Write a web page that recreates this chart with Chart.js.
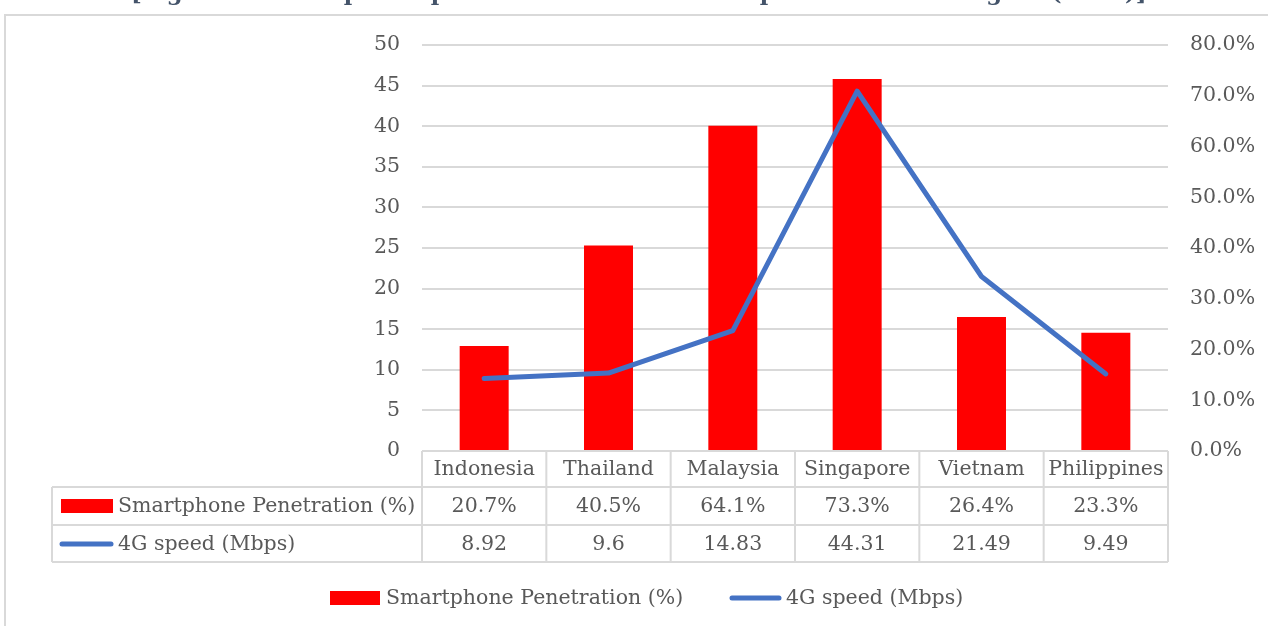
<!DOCTYPE html>
<html><head><meta charset="utf-8">
<script src="https://cdn.jsdelivr.net/npm/chart.js@4.4.1/dist/chart.umd.min.js"></script>
<style>html,body{margin:0;padding:0;background:#fff;overflow:hidden}canvas{display:block}</style>
</head><body>
<canvas id="c" width="1268" height="626"></canvas>
<script>
// ---- data ----
const categories = ['Indonesia', 'Thailand', 'Malaysia', 'Singapore', 'Vietnam', 'Philippines'];
const penetration = [0.207, 0.405, 0.641, 0.733, 0.264, 0.233];   // Smartphone Penetration (%) – right axis
const speed = [8.92, 9.6, 14.83, 44.31, 21.49, 9.49];              // 4G speed (Mbps) – left axis
const seriesNames = ['Smartphone Penetration (%)', '4G speed (Mbps)'];
const titleText = '[Figure 1: Smartphone penetration rate and 4G speed in ASEAN region (2019)]';
const leftAxis = { min: 0, max: 50, step: 5 };
const rightAxis = { min: 0, max: 0.8, step: 0.1 };

// ---- styles ----
const FONT = "'DejaVu Serif', 'Liberation Serif', serif";
const FS = 20.5;
const TXT = '#595959';
const GRID = '#D9D9D9';
const RED = '#FF0000';
const BLUE = '#4472C4';

const fmtPct = v => (v * 100).toFixed(1) + '%';
const fmtNum = v => String(v);

const decor = {
  id: 'decor',
  beforeDraw(chart) {
    const ctx = chart.ctx;
    ctx.save();
    ctx.fillStyle = '#fff';
    ctx.fillRect(0, 0, chart.width, chart.height);
    ctx.strokeStyle = GRID;
    ctx.lineWidth = 2;
    ctx.strokeRect(5, 15, chart.width + 20, chart.height + 20);
    // title (clipped by canvas top)
    ctx.fillStyle = '#44546A';
    let fs = 26;
    ctx.font = 'bold ' + fs + 'px ' + FONT;
    const w = ctx.measureText(titleText).width;
    fs = fs * 1016 / w;
    ctx.font = 'bold ' + fs + 'px ' + FONT;
    ctx.textBaseline = 'alphabetic';
    ctx.textAlign = 'left';
    ctx.fillText(titleText, 131, -0.5);
    ctx.restore();
  },
  afterDraw(chart) {
    const ctx = chart.ctx;
    const xs = chart.scales.x;
    const n = categories.length;
    const cw = (xs.right - xs.left) / n;
    const x0 = xs.left, x1 = xs.right;
    const tblL = 52;
    const yTop = chart.chartArea.bottom, yH = 487, yR1 = 525, yR2 = 562;
    ctx.save();
    ctx.strokeStyle = GRID;
    ctx.lineWidth = 2;
    ctx.beginPath();
    ctx.moveTo(x0, yTop); ctx.lineTo(x1, yTop);
    [yH, yR1, yR2].forEach(y => { ctx.moveTo(tblL, y); ctx.lineTo(x1, y); });
    ctx.moveTo(tblL, yH); ctx.lineTo(tblL, yR2);
    for (let i = 0; i <= n; i++) {
      const x = x0 + i * cw;
      ctx.moveTo(x, yTop); ctx.lineTo(x, yR2);
    }
    ctx.stroke();

    ctx.fillStyle = TXT;
    ctx.font = FS + 'px ' + FONT;
    ctx.textBaseline = 'middle';
    ctx.textAlign = 'center';
    categories.forEach((c, i) => {
      const cx = xs.getPixelForValue(i);
      ctx.fillText(c, cx, (yTop + yH) / 2 + 1);
      ctx.fillText(fmtPct(penetration[i]), cx, (yH + yR1) / 2 + 1);
      ctx.fillText(fmtNum(speed[i]), cx, (yR1 + yR2) / 2 + 1);
    });
    // row headers with keys
    ctx.textAlign = 'left';
    ctx.fillStyle = RED;
    ctx.fillRect(61, 499, 52, 14);
    ctx.fillStyle = TXT;
    ctx.fillText(seriesNames[0], 118, (yH + yR1) / 2 + 1);
    ctx.strokeStyle = BLUE;
    ctx.lineWidth = 5;
    ctx.lineCap = 'round';
    ctx.beginPath(); ctx.moveTo(62, 544); ctx.lineTo(111, 544); ctx.stroke();
    ctx.fillText(seriesNames[1], 118, (yR1 + yR2) / 2 + 1);

    // bottom legend
    const ly = 598;
    ctx.fillStyle = RED;
    ctx.fillRect(330, ly - 7, 50, 14);
    ctx.fillStyle = TXT;
    ctx.fillText(seriesNames[0], 386, ly + 1);
    ctx.beginPath(); ctx.moveTo(732, ly); ctx.lineTo(779, ly); ctx.stroke();
    ctx.fillText(seriesNames[1], 786, ly + 1);
    ctx.restore();
  }
};

new Chart(document.getElementById('c'), {
  data: {
    labels: categories,
    datasets: [
      {
        type: 'line', label: seriesNames[1], data: speed, yAxisID: 'y', order: 0,
        borderColor: BLUE, borderWidth: 5, pointRadius: 0, tension: 0,
        borderCapStyle: 'round', borderJoinStyle: 'round', fill: false
      },
      {
        type: 'bar', label: seriesNames[0], data: penetration, yAxisID: 'y1', order: 1,
        backgroundColor: RED, borderWidth: 0, categoryPercentage: 1, barPercentage: 0.394
      }
    ]
  },
  options: {
    responsive: false,
    animation: false,
    layout: { padding: { top: 45, left: 0, right: 0, bottom: 0 } },
    plugins: { legend: { display: false }, tooltip: { enabled: false }, title: { display: false } },
    scales: {
      x: {
        type: 'category',
        grid: { display: false },
        border: { display: false },
        ticks: { display: false },
        afterFit(s) { s.height = 175; }
      },
      y: {
        position: 'left', min: leftAxis.min, max: leftAxis.max,
        ticks: { stepSize: leftAxis.step, color: TXT, font: { family: FONT, size: FS }, padding: 22 },
        grid: { color: GRID, lineWidth: 2, drawTicks: false },
        border: { display: false },
        afterFit(s) { s.width = 422; }
      },
      y1: {
        position: 'right', min: rightAxis.min, max: rightAxis.max,
        ticks: { stepSize: rightAxis.step, color: TXT, font: { family: FONT, size: FS }, padding: 22,
                 callback: v => (v * 100).toFixed(1) + '%' },
        grid: { display: false, drawTicks: false },
        border: { display: false },
        afterFit(s) { s.width = 100; }
      }
    }
  },
  plugins: [decor]
});
</script>
</body></html>
